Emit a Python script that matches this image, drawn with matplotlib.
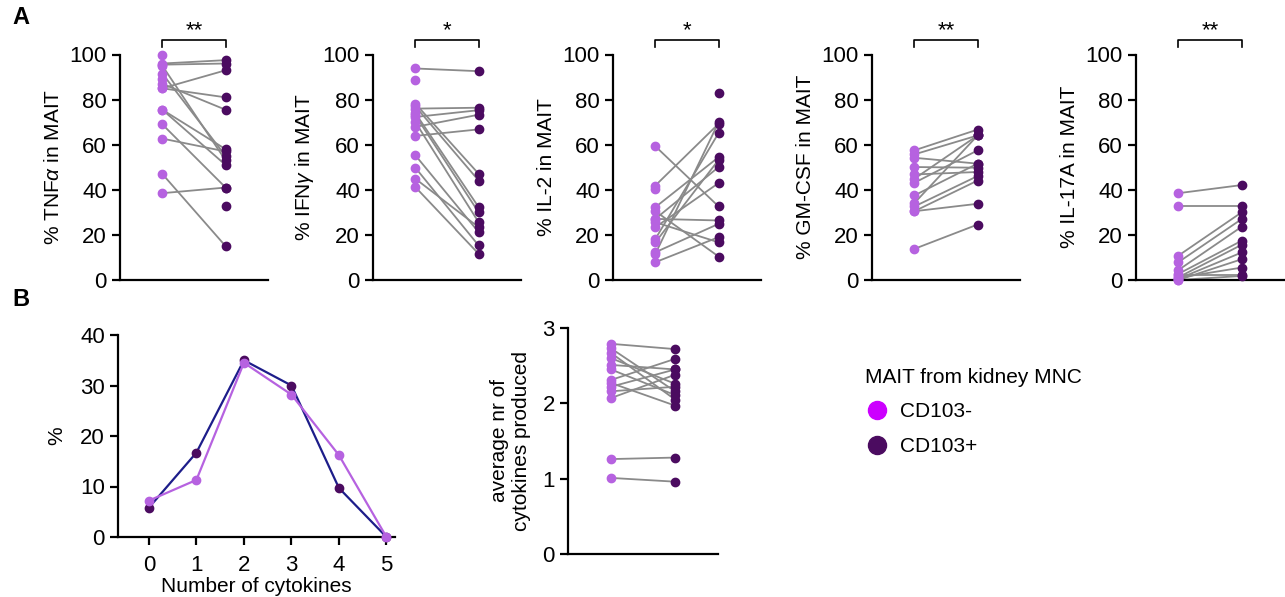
import numpy as np
import matplotlib.pyplot as plt
from matplotlib.lines import Line2D

plt.rcParams['font.family'] = ['Liberation Sans', 'DejaVu Sans']
plt.rcParams['mathtext.fontset'] = 'custom'
plt.rcParams['mathtext.it'] = 'Liberation Sans:italic'

nan = np.nan

# paired values: CD103- (left) and CD103+ (right), nan = no partner
tnf_neg = [100, 96, 95.5, 85, 85, 87, 91.5, 95, 75.5, 75.5, 62.7, 69, 38.5, 47, 89, nan]
tnf_pos = [nan, 97.5, 96, 93, 81, 75.5, 55, 53, 58, 51, 57, 41, 41, 15, nan, 33]

ifn_neg = [93.8, 88.6, 78.2, 76, 74, 72.3, 70, 67.9, 63.9, 55.3, 49.8, 44.9, 41.2, 77, 73]
ifn_pos = [92.6, nan, 47.1, 76.4, 32.3, 75.3, 25.6, 73.3, 66.8, 21.2, 15.3, 23.4, 11.6, 44.1, 30]

il2_neg = [59.3, 41.9, 40.4, 32.3, 27.1, 27.1, 25.6, 23.4, 18.2, 16.7, 12.3, 11.6, 7.9, 30.5, nan]
il2_pos = [32.6, 69.3, nan, 54.5, 50.1, 26.4, 16.7, 43, 65.2, 53.3, 24.9, 70, 19, 10.4, 83]

gm_neg = [57.5, 55.7, 54.2, 50.1, 46.8, 44.9, 43.1, 34.1, 32.6, 30.5, 30.5, 13.8, 37.5]
gm_pos = [66.7, 64.1, 51.6, 49.8, 47.9, 64.1, 57.5, 64.1, 46.1, 44.1, 33.8, 24.6, 51.6]

il17_neg = [38.5, 33, 10.8, 7.9, 4.4, 2.7, 1.2, 0.5, 0, 1, 0, 2]
il17_pos = [42.1, 33, 30, 27, 23.6, 17.4, 15.6, 12.2, 9.2, 5.5, 1.8, 2]

panel_labels = ['% TNF$\\alpha$ in MAIT', '% IFN$\\gamma$ in MAIT', '% IL-2 in MAIT',
                '% GM-CSF in MAIT', '% IL-17A in MAIT']
stars = ['**', '*', '*', '**', '**']

# number of cytokines distribution
n_cyto = [0, 1, 2, 3, 4, 5]
dist_neg = [7.2, 11.3, 34.5, 28.2, 16.2, 0]
dist_pos = [5.8, 16.7, 35, 30, 9.7, 0]

# average number of cytokines produced
avg_neg = [2.79, 2.73, 2.67, 2.60, 2.51, 2.45, 2.31, 2.27, 2.22, 2.16, 2.07, 1.26, 1.01]
avg_pos = [2.72, 2.16, 2.05, 2.26, 2.45, 2.11, 2.59, 1.97, 2.45, 2.22, 2.38, 1.28, 0.96]

c_neg = '#b662e0'
c_pos = '#4b0b60'
c_line = '#8a8a8a'
c_navy = '#1d1d8a'

FS = 15


def style_axis(ax):
    for s in ['top', 'right']:
        ax.spines[s].set_visible(False)
    for s in ['left', 'bottom']:
        ax.spines[s].set_linewidth(1.6)
    ax.tick_params(width=1.6, length=6, labelsize=FS + 1)


def paired(ax, neg, pos):
    neg = np.array(neg, dtype=float)
    pos = np.array(pos, dtype=float)
    for a, b in zip(neg, pos):
        if not (np.isnan(a) or np.isnan(b)):
            ax.plot([0, 1], [a, b], color=c_line, lw=1.3, zorder=2, clip_on=False)
    ax.plot(np.zeros(len(neg)), neg, 'o', color=c_neg, ms=6, zorder=3, clip_on=False)
    ax.plot(np.ones(len(pos)), pos, 'o', color=c_pos, ms=6, zorder=4, clip_on=False)
    ax.set_xlim(-0.67, 1.67)
    ax.set_xticks([])


fig = plt.figure(figsize=(12.85, 5.97), dpi=100)

top_lefts = [120, 373, 613, 872, 1136]
top_data = [(tnf_neg, tnf_pos), (ifn_neg, ifn_pos), (il2_neg, il2_pos),
            (gm_neg, gm_pos), (il17_neg, il17_pos)]
for i, (x0, (neg, pos)) in enumerate(zip(top_lefts, top_data)):
    ax = fig.add_axes([x0 / 1285, 317 / 597, 148 / 1285, 225.5 / 597])
    style_axis(ax)
    paired(ax, neg, pos)
    ax.set_ylim(0, 100)
    ax.set_yticks([0, 20, 40, 60, 80, 100])
    ax.set_ylabel(panel_labels[i], fontsize=FS, labelpad=5)
    ax.plot([0, 0, 1, 1], [103.5, 106.5, 106.5, 103.5], color='black', lw=1.2, clip_on=False)
    ax.text(0.5, 106, stars[i], ha='center', va='bottom', fontsize=16, clip_on=False)

# B: distribution
ax = fig.add_axes([118 / 1285, 60 / 597, 277 / 1285, 202 / 597])
style_axis(ax)
ax.tick_params(axis='x', pad=7)
ax.plot(n_cyto, dist_pos, '-', color=c_navy, lw=1.6, zorder=2, clip_on=False)
ax.plot(n_cyto, dist_pos, 'o', color=c_pos, ms=6, zorder=3, clip_on=False)
ax.plot(n_cyto, dist_neg, '-o', color=c_neg, lw=1.6, ms=6, zorder=4, clip_on=False)
ax.set_xlim(-0.65, 5.18)
ax.set_ylim(0, 40)
ax.set_xticks(n_cyto)
ax.set_yticks([0, 10, 20, 30, 40])
ax.set_xlabel('Number of cytokines', fontsize=FS, labelpad=1)
ax.set_ylabel('%', fontsize=FS, labelpad=10)

# B: average cytokines
ax = fig.add_axes([568 / 1285, 43 / 597, 150 / 1285, 226 / 597])
style_axis(ax)
paired(ax, avg_neg, avg_pos)
ax.set_ylim(0, 3)
ax.set_yticks([0, 1, 2, 3])
ax.set_ylabel('average nr of\ncytokines produced', fontsize=FS, labelpad=8)

# legend
handles = [Line2D([], [], marker='o', ls='', color='#cc00ff', ms=13, label='CD103-'),
           Line2D([], [], marker='o', ls='', color=c_pos, ms=13, label='CD103+')]
leg = fig.legend(handles=handles, title='MAIT from kidney MNC', loc='upper left',
                 bbox_to_anchor=(846 / 1285, 1 - 349 / 597), frameon=False,
                 fontsize=FS, title_fontsize=FS, alignment='left',
                 handletextpad=0.5, labelspacing=0.75, handlelength=1.2)

fig.text(12 / 1285, 1 - 18 / 597, 'A', fontsize=17, fontweight='bold', va='center')
fig.text(12 / 1285, 1 - 300 / 597, 'B', fontsize=17, fontweight='bold', va='center')

fig.savefig('out.png', dpi=100)
